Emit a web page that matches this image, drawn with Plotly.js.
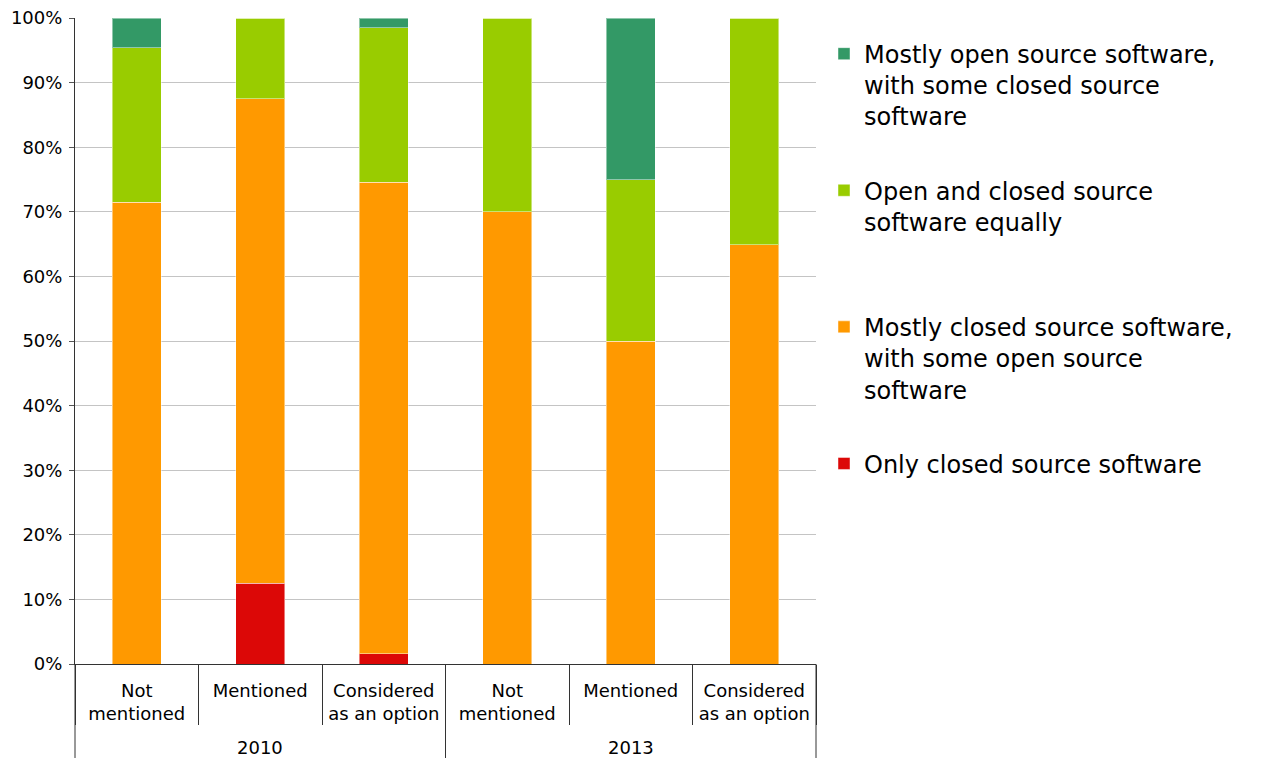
<!DOCTYPE html>
<html>
<head>
<meta charset="utf-8">
<script src="https://cdn.plot.ly/plotly-3.0.1.min.js"></script>
<style>html,body{margin:0;padding:0;background:#fff;}#chart{width:1261px;height:758px;}</style>
</head>
<body>
<div id="chart"></div>
<script>
var years = ["2010", "2010", "2010", "2013", "2013", "2013"];
var groups = ["Not mentioned", "Mentioned", "Considered as an option",
              "Not mentioned", "Mentioned", "Considered as an option"];
var groupLabels = ["Not<br>mentioned", "Mentioned", "Considered<br>as an option",
                   "Not<br>mentioned", "Mentioned", "Considered<br>as an option"];
var yearLabels = ["2010", "2013"];

var seriesNames = [
  "Only closed source software",
  "Mostly closed source software,<br>with some open source<br>software",
  "Open and closed source<br>software equally<br> ",
  "Mostly open source software,<br>with some closed source<br>software"
];
var seriesColors = ["#dc0807", "#ff9900", "#99cc00", "#339966"];

var onlyClosed   = [0,    12.5, 1.6,  0,    0,    0];
var mostlyClosed = [71.5, 75.0, 73.0, 70.0, 50.0, 64.9];
var equally      = [23.9, 12.5, 23.9, 30.0, 25.0, 35.1];
var mostlyOpen   = [4.6,  0,    1.5,  0,    25.0, 0];

var seriesValues = [onlyClosed, mostlyClosed, equally, mostlyOpen];

var FONT = "DejaVu Sans, Verdana, sans-serif";

// unique category keys (year + group); shown through ticktext
var catKeys = years.map(function (y, i) { return y + " " + groups[i]; });

var traces = seriesValues.map(function (vals, i) {
  return {
    type: "bar",
    name: seriesNames[i],
    x: catKeys,
    y: vals,
    width: 0.4,
    legendgroup: "g" + i,
    legendrank: seriesValues.length - i,
    marker: { color: seriesColors[i], line: { color: "rgba(255,255,255,0.45)", width: 1 } },
    hoverinfo: "y+name"
  };
});

// year labels centred under the middle category of each year group
var annotations = yearLabels.map(function (yr) {
  var idx = years.indexOf(yr);
  var last = years.lastIndexOf(yr);
  var mid = catKeys[Math.round((idx + last) / 2)];
  return {
    text: yr, xref: "x", yref: "paper", x: mid, y: -0.1285,
    xanchor: "center", yanchor: "middle", showarrow: false,
    font: { family: FONT, size: 18, color: "#000" }
  };
});

// long dividers: left edge, between year groups, right edge
var shapes = [0, 0.5, 1].map(function (px) {
  return {
    type: "line", xref: "paper", yref: "paper",
    x0: px, x1: px, y0: 0, y1: -0.1455,
    line: { color: "#333", width: 1 }
  };
});

var layout = {
  width: 1261,
  height: 758,
  barmode: "stack",
  paper_bgcolor: "#ffffff",
  plot_bgcolor: "#ffffff",
  margin: { l: 75, r: 445, t: 18, b: 94, pad: 0 },
  font: { family: FONT, size: 18, color: "#000" },
  showlegend: true,
  legend: {
    x: 1.0108, xanchor: "left",
    y: 0.979, yanchor: "top",
    font: { family: FONT, size: 24, color: "#000" },
    traceorder: "grouped",
    tracegroupgap: 40,
    valign: "top",
    bgcolor: "rgba(0,0,0,0)"
  },
  xaxis: {
    type: "category",
    categoryorder: "array",
    categoryarray: catKeys,
    tickmode: "array",
    tickvals: catKeys,
    ticktext: groupLabels,
    tickangle: 0,
    showgrid: false,
    showline: true,
    linecolor: "#333",
    linewidth: 1,
    ticks: "outside",
    tickson: "boundaries",
    ticklen: 60,
    tickcolor: "#333",
    ticklabelstandoff: 10,
    tickfont: { family: FONT, size: 18, color: "#000" }
  },
  yaxis: {
    range: [0, 100],
    dtick: 10,
    ticksuffix: "%",
    showgrid: true,
    gridcolor: "#c4c4c4",
    gridwidth: 1,
    zeroline: false,
    showline: true,
    linecolor: "#333",
    linewidth: 1,
    ticks: "outside",
    ticklen: 5,
    tickcolor: "#555",
    ticklabelstandoff: 3,
    tickfont: { family: FONT, size: 18, color: "#000" }
  },
  annotations: annotations,
  shapes: shapes
};

Plotly.newPlot("chart", traces, layout, { displayModeBar: false, staticPlot: true });
</script>
</body>
</html>
